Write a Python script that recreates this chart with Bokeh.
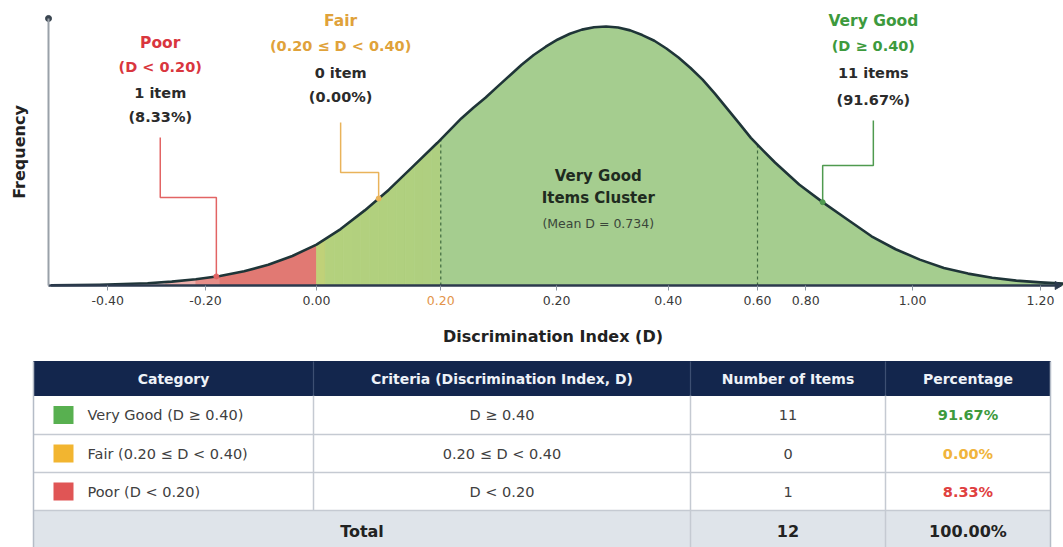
import math
import numpy as np
from bokeh.plotting import figure
from bokeh.models import Range1d, FixedTicker, LinearAxis
from bokeh.layouts import column
from bokeh.core.properties import value
from bokeh.embed import file_html
from bokeh.resources import INLINE

# ---------------- data ----------------
# bell curve (x on the drawn axis scale, y = relative frequency)
curve_x = [-0.44, -0.40, -0.36, -0.32, -0.28, -0.24, -0.20, -0.16, -0.12, -0.08, -0.04,
           0.00, 0.04, 0.08, 0.12, 0.16, 0.20, 0.24, 0.26, 0.28, 0.30, 0.32, 0.34, 0.36, 0.38,
           0.40, 0.42, 0.44, 0.46, 0.48, 0.50, 0.52, 0.54, 0.56, 0.58, 0.60, 0.62, 0.64, 0.66,
           0.68, 0.70, 0.72, 0.74, 0.76, 0.80, 0.84, 0.88, 0.92, 0.96, 1.00,
           1.04, 1.08, 1.12, 1.16, 1.20, 1.24]
curve_y = [0.001, 0.002, 0.003, 0.006, 0.009, 0.015, 0.024, 0.037, 0.055, 0.080, 0.114,
           0.158, 0.218, 0.290, 0.370, 0.460, 0.550, 0.645, 0.686, 0.725, 0.768, 0.810, 0.852, 0.890, 0.922,
           0.950, 0.972, 0.988, 0.997, 1.000, 0.996, 0.985, 0.967, 0.945, 0.915, 0.880, 0.840, 0.795, 0.742,
           0.685, 0.628, 0.570, 0.522, 0.475, 0.390, 0.320, 0.255, 0.190, 0.140, 0.100,
           0.068, 0.046, 0.030, 0.019, 0.012, 0.007]

# tick positions on the drawn scale and the labels printed there
tick_pos = [-0.346, -0.184, 0.0, 0.206, 0.398, 0.583, 0.731, 0.811, 0.988, 1.2]
tick_labels = ["-0.40", "-0.20", "0.00", "0.20", "0.20", "0.40", "0.60", "0.80", "1.00", "1.20"]
tick_highlight = [False, False, False, True, False, False, False, False, False, False]

cat_names = ["Very Good", "Fair", "Poor"]
cat_ranges = ["(D \u2265 0.40)", "(0.20 \u2264 D < 0.40)", "(D < 0.20)"]
cat_criteria = ["D \u2265 0.40", "0.20 \u2264 D < 0.40", "D < 0.20"]
cat_counts = [11, 0, 1]
cat_percent = [91.67, 0.00, 8.33]
mean_D = 0.734

region_edges = [0.0, 0.206]        # poor | fair | very good, on the drawn scale
dashed_marks = [0.206, 0.731]

# ---------------- styles ----------------
FONT = "DejaVu Sans"
TXT_COL = {"Very Good": "#3d9a3d", "Fair": "#e0a23a", "Poor": "#d9363e"}
LEAD_COL = {"Very Good": "#4f9a4f", "Fair": "#e9b35a", "Poor": "#e26464"}
SQ_COL = {"Very Good": "#58b050", "Fair": "#f2b530", "Poor": "#e05555"}
PCT_COL = {"Very Good": "#3d9a3d", "Fair": "#f0b43c", "Poor": "#e04040"}
DARK = "#2b2b2b"

W, H1, H2 = 1063, 353, 194
X0, X1 = -0.5238, 1.2382          # frame spans the full canvas width
AX_LEFT, AX_RIGHT = -0.4442, 1.2283
Y0, Y1 = -0.2625, 1.1004
Y_TOP = 1.031


def cy(x):
    return float(np.interp(x, curve_x, curve_y))


p = figure(width=W, height=H1, x_range=Range1d(X0, X1), y_range=Range1d(Y0, Y1),
           output_backend="svg", toolbar_location=None, min_border=0,
           min_border_left=0, min_border_right=0, min_border_top=0, min_border_bottom=0)
p.grid.visible = False
p.outline_line_color = None
p.background_fill_color = "white"
p.border_fill_color = "white"


def band(x0, x1, color):
    xs = [x0] + [x for x in curve_x if x0 < x < x1] + [x1]
    ys = [cy(x) for x in xs]
    p.patch(xs + [x1, x0], ys + [0, 0], fill_color=color, line_color=color, line_width=0.8)


def mix(c0, c1, t):
    return "#%02x%02x%02x" % tuple(int(round(a + (b - a) * t)) for a, b in zip(c0, c1))


# red (poor) region fading to the left
red = (225, 121, 115)
white = (255, 255, 255)
red_steps = [(-0.36, -0.30, 0.15), (-0.30, -0.25, 0.35), (-0.25, -0.20, 0.6),
             (-0.20, -0.16, 0.85), (-0.16, region_edges[0], 1.0)]
for a, b, t in red_steps:
    band(a, b, mix(white, red, t))

# fair region: warm edge quickly turning light green
fair_stops = [(0.00, (214, 200, 112)), (0.035, (192, 209, 120)), (0.08, (180, 209, 125)),
              (1.00, (174, 207, 128))]
nb = 14
for i in range(nb):
    a = region_edges[0] + (region_edges[1] - region_edges[0]) * i / nb
    b = region_edges[0] + (region_edges[1] - region_edges[0]) * (i + 1) / nb
    u = ((a + b) / 2 - region_edges[0]) / (region_edges[1] - region_edges[0])
    for (u0, c0), (u1, c1) in zip(fair_stops[:-1], fair_stops[1:]):
        if u0 <= u <= u1:
            col = mix(c0, c1, (u - u0) / (u1 - u0))
            break
    band(a, b, col)

# very good region
band(region_edges[1], X1, "#a5cd8f")

# dashed marks
p.segment(x0=dashed_marks, y0=[0, 0], x1=dashed_marks, y1=[cy(x) for x in dashed_marks],
          line_color="#3f6a3f", line_dash="3 3", line_width=1.2)

# curve
p.line(curve_x, curve_y, line_color="#1f3538", line_width=2.6, line_join="round")


def txt(x, y, s, color, size, bold=True):
    p.text(x=[x], y=[y], text=[s], text_color=color, text_font=value(FONT),
           text_font_size=size, text_font_style="bold" if bold else "normal",
           text_align="center", text_baseline="middle")


# callouts
callouts = {
    # name: (text x, line ys, lead top, lead elbow, target x)
    "Poor": (-0.259, [0.938, 0.842, 0.745, 0.649], 0.571, 0.340, -0.166),
    "Fair": (0.040, [1.023, 0.923, 0.822, 0.726], 0.629, 0.436, 0.103),
    "Very Good": (0.923, [1.023, 0.923, 0.819, 0.718], 0.637, 0.463, 0.839),
}
for i, name in enumerate(cat_names):
    tx, ys, ltop, lelb, tgt = callouts[name]
    n = cat_counts[i]
    lines = [name, cat_ranges[i], f"{n} item" + ("s" if n > 1 else ""), f"({cat_percent[i]:.2f}%)"]
    cols = [TXT_COL[name], TXT_COL[name], DARK, DARK]
    sizes = ["15.5px", "14.5px", "14.5px", "14.5px"]
    for s, yy, c, fs in zip(lines, ys, cols, sizes):
        txt(tx, yy, s, c, fs)
    p.line([tx, tx, tgt, tgt], [ltop, lelb, lelb, cy(tgt)], line_color=LEAD_COL[name], line_width=1.5)
    p.scatter([tgt], [cy(tgt)], size=5, color=LEAD_COL[name], marker="circle")

# central text
txt(0.467, 0.421, "Very Good", "#1f2b1f", "15px")
txt(0.467, 0.336, "Items Cluster", "#1f2b1f", "15px")
txt(0.467, 0.239, f"(Mean D = {mean_D})", "#3a463a", "12.5px", bold=False)

# axes (pinned inside the full-canvas frame)
xa = p.xaxis[0]
xa.fixed_location = 0
xa.bounds = (AX_LEFT, AX_RIGHT)
xa.ticker = FixedTicker(ticks=tick_pos)
xa.major_label_overrides = {t: ("" if h else l) for t, l, h in zip(tick_pos, tick_labels, tick_highlight)}
xa.axis_line_color = "#2c3a4e"
xa.axis_line_width = 2.5
xa.major_tick_line_color = "#8a94a0"
xa.major_tick_out = 5
xa.major_tick_in = 0
xa.minor_tick_line_color = None
xa.major_label_standoff = 5
xa.major_label_text_font = FONT
xa.major_label_text_font_size = "12.5px"
xa.major_label_text_color = "#3a3a3a"
xa.axis_label = "Discrimination Index (D)"
xa.axis_label_text_font = FONT
xa.axis_label_text_font_style = "bold"
xa.axis_label_text_font_size = "16px"
xa.axis_label_text_color = "#222222"
xa.axis_label_standoff = 19

hl = {t: l for t, l, h in zip(tick_pos, tick_labels, tick_highlight) if h}
xa2 = LinearAxis(fixed_location=0, ticker=FixedTicker(ticks=list(hl.keys())),
                 major_label_overrides=hl, axis_line_color=None, major_tick_line_color=None,
                 minor_tick_line_color=None, major_tick_out=5, major_tick_in=0,
                 major_label_standoff=5, major_label_text_font=FONT,
                 major_label_text_font_size="12.5px", major_label_text_color="#e3944a")
p.add_layout(xa2, "below")

ya = p.yaxis[0]
ya.fixed_location = AX_LEFT
ya.ticker = FixedTicker(ticks=[])
ya.bounds = (0, Y_TOP)
ya.axis_line_color = "#9aa1a9"
ya.axis_line_width = 2
ya.major_tick_line_color = None
ya.minor_tick_line_color = None
ya.axis_label = "Frequency"
ya.axis_label_text_font = FONT
ya.axis_label_text_font_style = "bold"
ya.axis_label_text_font_size = "16px"
ya.axis_label_text_color = "#222222"
ya.axis_label_standoff = 20

# axis end marks
p.scatter([AX_LEFT], [Y_TOP], size=6, color="#3a4550", marker="circle")
p.scatter([AX_RIGHT], [0], size=8, color="#2c3a4e", marker="triangle", angle=-math.pi / 2)

# ---------------- table ----------------
t = figure(width=W, height=H2, x_range=Range1d(0, W), y_range=Range1d(547, 353),
           output_backend="svg", toolbar_location=None, min_border=0,
           min_border_left=0, min_border_right=0, min_border_top=0, min_border_bottom=0,
           x_axis_type=None, y_axis_type=None)
t.grid.visible = False
t.outline_line_color = None
t.background_fill_color = "white"
t.border_fill_color = "white"

col_edges = [33, 313, 690, 885, 1050]
row_edges = [361, 395, 434, 472, 510, 547]
col_centers = [(a + b) / 2 for a, b in zip(col_edges[:-1], col_edges[1:])]
row_centers = [(a + b) / 2 for a, b in zip(row_edges[:-1], row_edges[1:])]
headers = ["Category", "Criteria (Discrimination Index, D)", "Number of Items", "Percentage"]

t.quad(left=col_edges[0], right=col_edges[-1], top=row_edges[0], bottom=row_edges[1],
       fill_color="#13264d", line_color="#13264d")
t.quad(left=col_edges[0], right=col_edges[-1], top=row_edges[4], bottom=row_edges[5],
       fill_color="#dfe4ea", line_color=None)
# grid lines
t.segment(x0=[col_edges[0]] * 3, y0=row_edges[2:5], x1=[col_edges[-1]] * 3, y1=row_edges[2:5],
          line_color="#c5cad2", line_width=1.5)
t.segment(x0=col_edges[1:4], y0=[row_edges[1]] * 3, x1=col_edges[1:4], y1=[row_edges[4]] * 3,
          line_color="#c5cad2", line_width=1.5)
t.segment(x0=col_edges[2:4], y0=[row_edges[4]] * 2, x1=col_edges[2:4], y1=[row_edges[5]] * 2,
          line_color="#c5cad2", line_width=1.5)
t.segment(x0=col_edges[1:4], y0=[row_edges[0]] * 3, x1=col_edges[1:4], y1=[row_edges[1]] * 3,
          line_color="#3d4f72", line_width=1.2)
t.segment(x0=[col_edges[0], col_edges[-1]], y0=[row_edges[0]] * 2,
          x1=[col_edges[0], col_edges[-1]], y1=[row_edges[5]] * 2, line_color="#b5bcc7", line_width=1.5)

t.text(x=col_centers, y=[row_centers[0]] * 4, text=headers, text_color="#eef2f8",
       text_font=value(FONT), text_font_size="14px", text_font_style="bold",
       text_align="center", text_baseline="middle")

body_y = row_centers[1:4]
t.rect(x=[63] * 3, y=body_y, width=20, height=18, fill_color=[SQ_COL[n] for n in cat_names], line_color=None)
t.text(x=[87] * 3, y=body_y, text=[f"{n} {r}" for n, r in zip(cat_names, cat_ranges)],
       text_color="#404040", text_font=value(FONT), text_font_size="14.5px",
       text_align="left", text_baseline="middle")
t.text(x=[col_centers[1]] * 3, y=body_y, text=cat_criteria, text_color="#404040",
       text_font=value(FONT), text_font_size="14.5px", text_align="center", text_baseline="middle")
t.text(x=[col_centers[2]] * 3, y=body_y, text=[str(c) for c in cat_counts], text_color="#404040",
       text_font=value(FONT), text_font_size="14.5px", text_align="center", text_baseline="middle")
t.text(x=[col_centers[3]] * 3, y=body_y, text=[f"{v:.2f}%" for v in cat_percent],
       text_color=[PCT_COL[n] for n in cat_names], text_font=value(FONT), text_font_size="14.5px",
       text_font_style="bold", text_align="center", text_baseline="middle")

total_y = row_centers[4] + 2
t.text(x=[(col_edges[0] + col_edges[2]) / 2, col_centers[2], col_centers[3]], y=[total_y] * 3,
       text=["Total", str(sum(cat_counts)), f"{sum(cat_percent):.2f}%"], text_color="#222222",
       text_font=value(FONT), text_font_size="16px", text_font_style="bold",
       text_align="center", text_baseline="middle")

layout = column(p, t, spacing=0)
open("out.html", "w").write(file_html(layout, INLINE))
